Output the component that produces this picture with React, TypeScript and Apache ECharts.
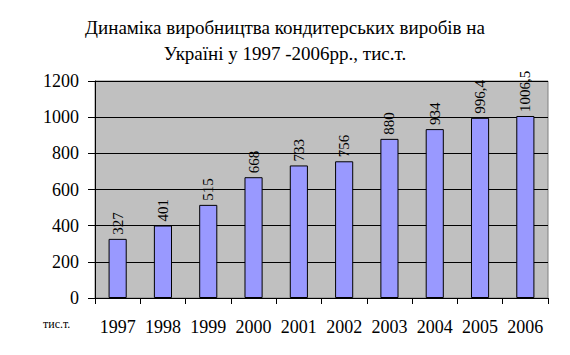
import React, { useEffect, useRef } from "react";
import * as echarts from "echarts";

const years = ["1997", "1998", "1999", "2000", "2001", "2002", "2003", "2004", "2005", "2006"];
const production = [327, 401, 515, 668, 733, 756, 880, 934, 996.4, 1006.5];
const titleLines = [
  "Динаміка виробництва кондитерських виробів на",
  "Україні у 1997 -2006рр., тис.т.",
];
const unitLabel = "тис.т.";

const SERIF = "Liberation Serif";

export default function App() {
  const ref = useRef<HTMLDivElement>(null);
  useEffect(() => {
    if (!ref.current) return;
    const chart = echarts.init(ref.current, null, { renderer: "svg" });
    chart.setOption({
      animation: false,
      backgroundColor: "#ffffff",
      textStyle: { fontFamily: SERIF },
      graphic: [
        {
          type: "text",
          left: "center",
          top: 18,
          style: {
            text: titleLines[0],
            fontFamily: SERIF,
            fontSize: 19,
            fill: "#000",
          },
        },
        {
          type: "text",
          left: "center",
          top: 44,
          style: {
            text: titleLines[1],
            fontFamily: SERIF,
            fontSize: 19,
            fill: "#000",
          },
        },
        {
          type: "text",
          left: 43,
          top: 318,
          style: {
            text: unitLabel,
            fontFamily: SERIF,
            fontSize: 12,
            fill: "#000",
          },
        },
      ],
      grid: {
        left: 95,
        right: 22,
        top: 81,
        bottom: 57,
        show: true,
        backgroundColor: "#C0C0C0",
        borderColor: "#808080",
        borderWidth: 1,
      },
      xAxis: {
        type: "category",
        data: years,
        axisLine: { show: true, lineStyle: { color: "#000", width: 1 } },
        axisTick: { show: true, length: 6, lineStyle: { color: "#000" } },
        axisLabel: {
          fontFamily: SERIF,
          fontSize: 18,
          color: "#000",
          margin: 20,
          interval: 0,
        },
        splitLine: { show: false },
      },
      yAxis: {
        type: "value",
        min: 0,
        max: 1200,
        interval: 200,
        axisLine: { show: true, lineStyle: { color: "#000", width: 1 } },
        axisTick: { show: true, length: 7, lineStyle: { color: "#000" } },
        axisLabel: {
          fontFamily: SERIF,
          fontSize: 18,
          color: "#000",
          margin: 16,
          formatter: (v: number) => String(v),
        },
        splitLine: { show: true, lineStyle: { color: "#000", width: 1 } },
      },
      series: [
        {
          type: "bar",
          data: production,
          barWidth: "40%",
          itemStyle: { color: "#9999FF", borderColor: "#000", borderWidth: 1 },
          label: {
            show: true,
            position: "top",
            rotate: 90,
            align: "left",
            verticalAlign: "middle",
            distance: 4,
            fontFamily: SERIF,
            fontSize: 15,
            color: "#000",
            formatter: (p: any) => String(p.value).replace(".", ","),
          },
        },
      ],
    });
    return () => chart.dispose();
  }, []);
  return (
    <div
      ref={ref}
      style={{ position: "fixed", left: 0, top: 0, width: 570, height: 355 }}
    />
  );
}
